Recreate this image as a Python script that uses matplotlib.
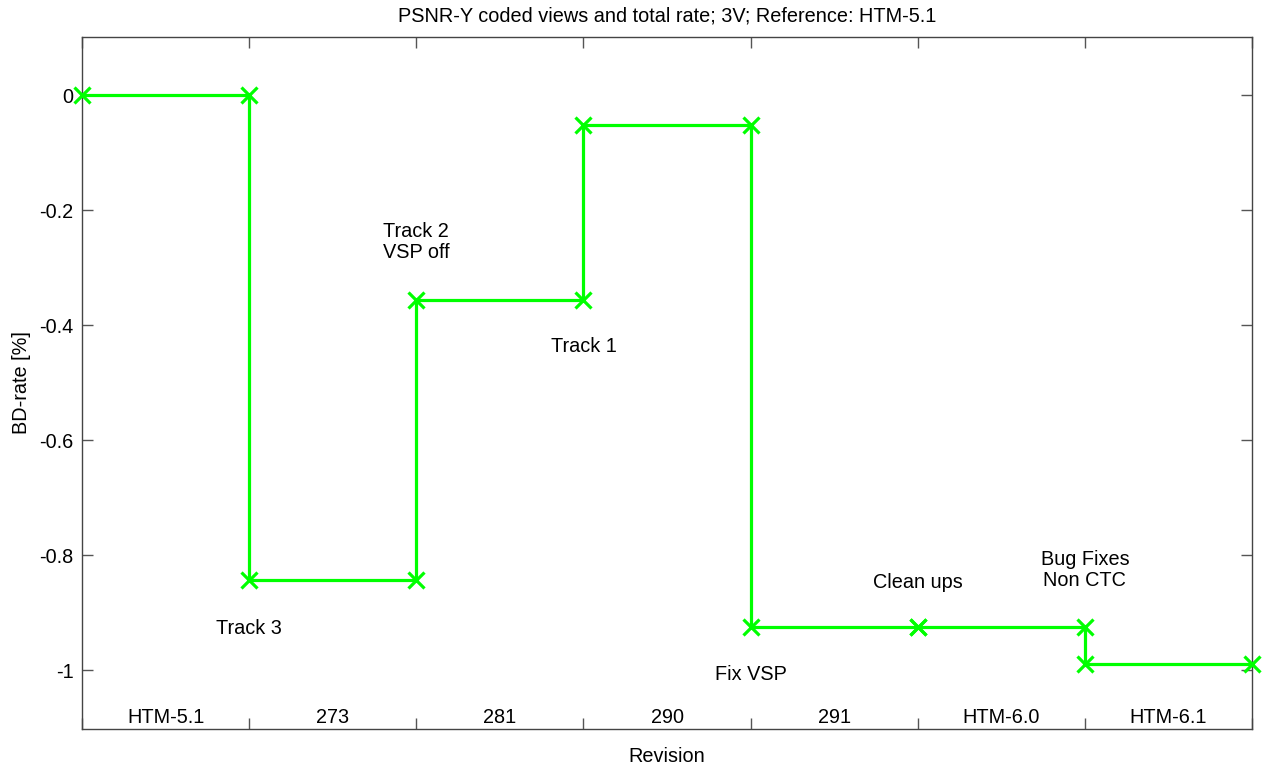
import numpy as np
from matplotlib import pyplot as plt

revisions = ['HTM-5.1', '273', '281', '290', '291', 'HTM-6.0', 'HTM-6.1']
bd_rate = [0.0, -0.843, -0.357, -0.052, -0.926, -0.926, -0.989]

notes = ['Track 3', 'Track 2\nVSP off', 'Track 1', 'Fix VSP', 'Clean ups', 'Bug Fixes\nNon CTC']
note_x = [1, 2, 3, 4, 5, 6]
note_y = [-0.927, -0.256, -0.438, -1.007, -0.847, -0.826]

plt.rcParams['font.family'] = ['Liberation Sans', 'DejaVu Sans']
fs = 14.3

fig = plt.figure(figsize=(12.64, 7.69), dpi=100)
ax = fig.add_axes([0.0649, 0.052, 0.9256, 0.8999])

# each revision's value held over one interval, markers at both ends
xs, ys = [], []
for i, v in enumerate(bd_rate):
    xs += [i, i + 1]
    ys += [v, v]
ax.plot(xs, ys, color='#00ff00', lw=2.3, marker='x', ms=11, mew=2.3, clip_on=False, zorder=3)

for i, name in enumerate(revisions):
    ax.text(i + 0.5, -1.082, name, ha='center', va='center', fontsize=fs)

for x, y, t in zip(note_x, note_y, notes):
    ax.text(x, y, t, ha='center', va='center', linespacing=1.15, fontsize=fs)

ax.set_xlim(0, 7)
ax.set_ylim(-1.1026, 0.1009)
ax.set_xticks(np.arange(0, 8))
ax.set_xticklabels([])
ax.set_yticks([-1, -0.8, -0.6, -0.4, -0.2, 0])
ax.set_yticklabels(['-1', '-0.8', '-0.6', '-0.4', '-0.2', '0'])
ax.tick_params(direction='in', length=8, width=1, color='#555555',
               top=True, right=True, labelsize=fs, pad=6)
for s in ax.spines.values():
    s.set_color('#444444')
    s.set_linewidth(1)

ax.set_title('PSNR-Y coded views and total rate; 3V; Reference: HTM-5.1', fontsize=fs, pad=11)
ax.set_xlabel('Revision', fontsize=fs, labelpad=7)
ax.set_ylabel('BD-rate [%]', fontsize=fs, labelpad=6)

plt.savefig('out.png', dpi=100)
